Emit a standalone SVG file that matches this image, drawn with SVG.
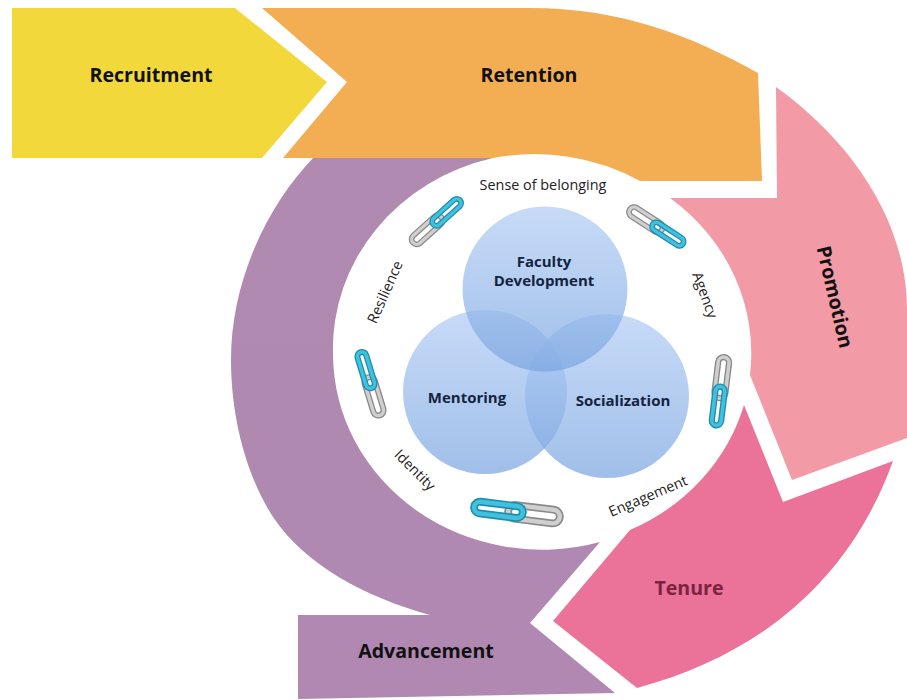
<svg xmlns="http://www.w3.org/2000/svg" width="907" height="700" viewBox="0 0 907 700">
<style>
text{font-family:"Open Sans","Liberation Sans",sans-serif;text-anchor:middle}
.big{font-weight:700;font-size:19.6px;fill:#111}
.in{font-weight:700;font-size:15px;fill:#14233f}
.lab{font-size:14.4px;fill:#222}
.ring{fill:url(#bub);fill-opacity:.72}
.tl{fill:none;stroke-linejoin:round}
</style>
<defs>
<linearGradient id="bub" x1="0" y1="0" x2="0" y2="1"><stop offset="0" stop-color="#b2cdf5"/><stop offset="1" stop-color="#7ba6e0"/></linearGradient>
<linearGradient id="pur" x1="0" y1="0" x2="0" y2="1"><stop offset="0" stop-color="#b08ab0"/><stop offset="1" stop-color="#b088b2"/></linearGradient>
<g id="chain">
<rect class="tl" x="-8" y="-7" width="53" height="14" rx="7" stroke="#8a8a8a" stroke-width="8"/>
<rect class="tl" x="-8" y="-7" width="53" height="14" rx="7" stroke="#cfcfcf" stroke-width="4.5"/>
<rect class="tl" x="-43" y="-6" width="50" height="12" rx="6" stroke="#1f8fae" stroke-width="8"/>
<rect class="tl" x="-43" y="-6" width="50" height="12" rx="6" stroke="#41c1de" stroke-width="4.5"/>
</g>
</defs>
<rect width="907" height="700" fill="#fff"/>
<g id="advancement">
<path fill="url(#pur)" d="M493 158H313C268 205 231 280 231 360C231 410 243 470 273 517C305 565 365 597 430 615H298V699L615 693L530 623L600 542A209 196 0 0 1 333 354A209 196 0 0 1 493 158Z"/>
<text class="big" x="426" y="658">Advancement</text>
</g>
<g id="recruitment">
<path fill="#f2d83b" d="M12 8H235L327 82L262 158H12Z"/>
<text class="big" x="151" y="82">Recruitment</text>
</g>
<g id="retention">
<path fill="#f3ad52" d="M262 8H530C620 8 690 35 758 73L762 181H640A209 196 0 0 0 493 158H283L347 82Z"/>
<text class="big" x="529" y="82">Retention</text>
</g>
<g id="promotion">
<path fill="#f29aa5" d="M776 87C850 140 907 220 907 310V438L792 480L750 375A209 196 0 0 0 670 198H777Z"/>
<text class="big" transform="translate(835 297) rotate(77)" y="7">Promotion</text>
</g>
<g id="tenure">
<path fill="#eb7299" d="M744 405L783 502L893 461C850 580 760 655 637 688L553 621L630 530A209 196 0 0 0 744 405Z"/>
<text class="big" x="689" y="595" style="fill:#7a2440">Tenure</text>
</g>
<g id="faculty-circles">
<circle class="ring" cx="485" cy="392" r="82"/>
<circle class="ring" cx="607" cy="396" r="82"/>
<circle class="ring" cx="545" cy="289" r="82.5"/>
</g>
<g id="links">
<use href="#chain" transform="translate(437 221) rotate(138) scale(.72)"/>
<use href="#chain" transform="translate(657 227) rotate(213) scale(.72)"/>
<use href="#chain" transform="translate(370 383) rotate(73) scale(.75)"/>
<use href="#chain" transform="translate(720 392) rotate(-83) scale(.78)"/>
<use href="#chain" transform="translate(516 512) rotate(7) scale(.98)"/>
</g>
<g id="labels">
<text class="in" x="544" y="267">Faculty</text>
<text class="in" x="544" y="286">Development</text>
<text class="in" x="467" y="403">Mentoring</text>
<text class="in" x="623" y="406">Socialization</text>
<text class="lab" x="543" y="190">Sense of belonging</text>
<text class="lab" transform="translate(705 295) rotate(70)" y="5">Agency</text>
<text class="lab" transform="translate(648 496) rotate(-23)" y="5">Engagement</text>
<text class="lab" transform="translate(415 470) rotate(45)" y="5">Identity</text>
<text class="lab" transform="translate(385 292) rotate(-66)" y="5">Resilience</text>
</g>
</svg>
